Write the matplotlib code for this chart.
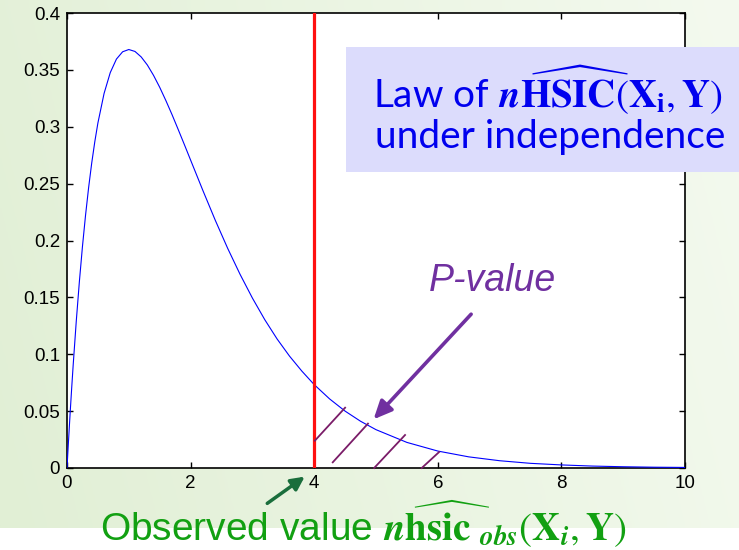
import matplotlib
matplotlib.use("Agg")
import matplotlib.pyplot as plt
import numpy as np
from matplotlib.patches import Rectangle

plt.rcParams['mathtext.fontset'] = 'stix'
plt.rcParams['font.family'] = ['Liberation Sans', 'DejaVu Sans']

# density of the statistic under independence
x_vals = [0, 0.025, 0.05, 0.075, 0.1, 0.15, 0.2, 0.25, 0.3, 0.35, 0.4, 0.45, 0.5,
          0.6, 0.7, 0.8, 0.9, 1.0, 1.1, 1.2, 1.3, 1.4, 1.5, 1.6, 1.7, 1.8, 1.9, 2.0,
          2.2, 2.4, 2.6, 2.8, 3.0, 3.2, 3.4, 3.6, 3.8, 4.0, 4.25, 4.5, 4.75, 5.0,
          5.5, 6.0, 6.5, 7.0, 7.5, 8.0, 8.5, 9.0, 9.5, 10.0]
density = [0, 0.0244, 0.0476, 0.0696, 0.0905, 0.1291, 0.1637, 0.1947, 0.2222, 0.2466,
           0.2681, 0.2869, 0.3033, 0.3293, 0.3476, 0.3595, 0.3659, 0.3679, 0.3662,
           0.3614, 0.3543, 0.3452, 0.3347, 0.3230, 0.3106, 0.2975, 0.2842, 0.2707,
           0.2438, 0.2177, 0.1931, 0.1703, 0.1494, 0.1304, 0.1134, 0.0984, 0.0852,
           0.0733, 0.0607, 0.0500, 0.0411, 0.0337, 0.0225, 0.0149, 0.0098, 0.0064,
           0.0041, 0.0027, 0.0017, 0.0011, 0.0007, 0.0005]
observed = 4.0

# hatch strokes of the p-value area
hatch_x0 = [4.01, 4.30, 4.97, 5.74]
hatch_y0 = [0.024, 0.005, 0.000, 0.000]
hatch_x1 = [4.50, 4.87, 5.47, 6.02]
hatch_y1 = [0.053, 0.039, 0.029, 0.014]

xticks = [0, 2, 4, 6, 8, 10]
yticks = [0, 0.05, 0.1, 0.15, 0.2, 0.25, 0.3, 0.35, 0.4]
ytick_labels = ['0', '0.05', '0.1', '0.15', '0.2', '0.25', '0.3', '0.35', '0.4']

W, H = 739, 550
fig = plt.figure(figsize=(W / 100, H / 100), dpi=100)
fig.patch.set_facecolor('white')

# green gradient background
bg = fig.add_axes([0, 1 - 528 / H, 1, 528 / H], zorder=-10)
gx = np.linspace(0, 1, 256)
gy = np.linspace(0, 1, 64)
GX, GY = np.meshgrid(gx, gy)
t = np.clip(GX * 0.85 + (1 - GY) * 0.15, 0, 1)
c0 = np.array([225, 239, 213]) / 255
c1 = np.array([244, 250, 239]) / 255
img = c0[None, None, :] * (1 - t[..., None]) + c1[None, None, :] * t[..., None]
bg.imshow(img, aspect='auto', extent=[0, 1, 0, 1], origin='upper')
bg.axis('off')

ax = fig.add_axes([67 / W, 1 - 468 / H, (685 - 67) / W, (468 - 13) / H])
ax.set_facecolor('white')
ax.plot(x_vals, density, color='#0000ff', lw=0.8, zorder=3)
ax.axvline(observed, color='#ff1010', lw=2.3, zorder=4)
for a, b, c, d in zip(hatch_x0, hatch_y0, hatch_x1, hatch_y1):
    ax.plot([a, c], [b, d], color='#7a1c68', lw=1.3, zorder=5, clip_on=False)

ax.set_xlim(0, 10)
ax.set_ylim(0, 0.4)
ax.set_xticks(xticks)
ax.set_yticks(yticks)
ax.set_yticklabels(ytick_labels)
ax.tick_params(direction='in', top=True, right=True, length=4, width=1,
               labelsize=13.5, pad=5)
for s in ax.spines.values():
    s.set_linewidth(1.2)

# P-value annotation
ax.annotate('', xy=(4.93, 0.041), xytext=(6.57, 0.137), xycoords='data',
            arrowprops=dict(arrowstyle='-|>,head_length=1.1,head_width=0.5',
                            color='#7030a0', lw=2.6), zorder=6)
fig.text(492 / W, 1 - 281 / H, 'P-value', color='#7030a0', fontsize=27,
         style='italic', ha='center', va='center')

# label box
box = Rectangle((346 / W, 1 - 172 / H), (W - 346) / W, 125 / H,
                transform=fig.transFigure, facecolor='#dcdcfc', edgecolor='none',
                zorder=10)
fig.add_artist(box)
fig.text(548 / W, 1 - 90 / H,
         r'Law of $\mathbfit{n}\widehat{\mathbf{HSIC}}(\mathbf{X}_{\mathbf{i}},\mathbf{Y})$',
         color='#0000ee', fontsize=28, family=['Lato', 'DejaVu Sans'],
         ha='center', va='center', zorder=11)
fig.text(550 / W, 1 - 137 / H, 'under independence',
         color='#0000ee', fontsize=28, family=['Lato', 'DejaVu Sans'],
         ha='center', va='center', zorder=11)

# observed value annotation
ax.annotate('', xy=(307 / W, 1 - 475 / H), xytext=(265 / W, 1 - 505 / H),
            xycoords='figure fraction', textcoords='figure fraction',
            arrowprops=dict(arrowstyle='-|>,head_length=0.8,head_width=0.4',
                            color='#1a6e3c', lw=2.5), annotation_clip=False)
fig.text(100 / W, 1 - 541 / H,
         r'Observed value $\mathbfit{n}\widehat{\mathbf{hsic}\ }_{\mathbfit{obs}}(\mathbf{X}_{\mathbfit{i}},\mathbf{Y})$',
         color='#12a012', fontsize=28, ha='left', va='baseline')

fig.savefig('out.png', dpi=100)
